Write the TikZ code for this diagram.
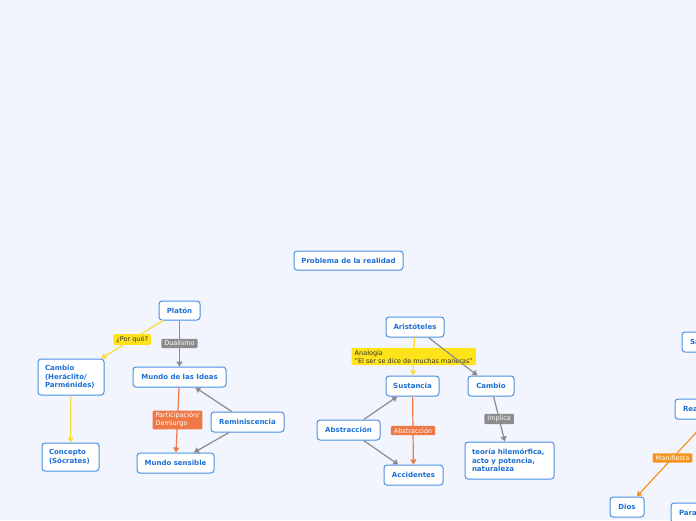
\documentclass[tikz,border=0pt]{standalone}
\usepackage{fontspec}
\setmainfont{DejaVu Sans}
\usetikzlibrary{arrows.meta}
\definecolor{bg}{HTML}{F2F5FE}
\definecolor{nodeblue}{HTML}{4A90E2}
\definecolor{txtblue}{HTML}{1C6ED4}
\definecolor{lgray}{HTML}{8C8C8C}
\definecolor{lyellow}{HTML}{FFE31A}
\definecolor{lineyellow}{HTML}{F9DC3A}
\definecolor{lorange}{HTML}{F07844}
\definecolor{lorangeb}{HTML}{F7941D}
\definecolor{darktxt}{HTML}{333333}
\tikzset{
  topic/.style={draw=nodeblue, fill=white, rounded corners=3pt, line width=1pt,
    text=txtblue, font=\bfseries\fontsize{7}{8.3}\selectfont, inner sep=0pt, align=center},
  lefttopic/.style={topic, align=left},
  lbl/.style={rounded corners=1pt, inner xsep=3pt, inner ysep=2pt,
    font=\fontsize{6.5}{8}\selectfont, align=left},
  lblgray/.style={lbl, fill=lgray, text=white},
  lblyellow/.style={lbl, fill=lyellow, text=darktxt},
  lblorange/.style={lbl, fill=lorange, text=white},
  lblorangeb/.style={lbl, fill=lorangeb, text=white},
  conn/.style={line width=1.2pt, -{Triangle[width=6pt,length=5pt]}},
  cgray/.style={conn, draw=lgray},
  cyellow/.style={conn, draw=lineyellow},
  corange/.style={conn, draw=lorange},
  corangeb/.style={conn, draw=lorangeb},
}
\begin{document}
\begin{tikzpicture}[x=1pt,y=-1pt]
\fill[bg] (0,0) rectangle (696,520);
\useasboundingbox (0,0) rectangle (696,520);
\clip (0,0) rectangle (696,520);

% nodes
\node[topic, minimum width=109pt, minimum height=19pt] (problema) at (348.5,260.5) {Problema de la realidad};
\node[topic, minimum width=41pt, minimum height=19pt] (platon) at (179.5,310.5) {Platón};
\node[lefttopic, minimum width=66pt, minimum height=36pt, text width=52pt] (cambioh) at (71,377) {Cambio\\(Heráclito/\\Parménides)};
\node[topic, minimum width=93pt, minimum height=20pt] (ideas) at (179.5,377) {Mundo de las Ideas};
\node[lefttopic, minimum width=57pt, minimum height=28pt, text width=43pt] (concepto) at (70.5,457) {Concepto\\(Sócrates)};
\node[topic, minimum width=73pt, minimum height=20pt] (remin) at (247.5,422) {Reminiscencia};
\node[topic, minimum width=77pt, minimum height=20pt] (sensible) at (175.5,463) {Mundo sensible};

\node[topic, minimum width=58pt, minimum height=20pt] (aristo) at (415,327) {Aristóteles};
\node[topic, minimum width=53pt, minimum height=20pt] (sustancia) at (412.5,386) {Sustancia};
\node[topic, minimum width=46pt, minimum height=20pt] (cambioa) at (491,386) {Cambio};
\node[topic, minimum width=63pt, minimum height=20pt] (abstr) at (348.5,430) {Abstracción};
\node[topic, minimum width=59pt, minimum height=20pt] (accid) at (413.5,475) {Accidentes};
\node[lefttopic, minimum width=89pt, minimum height=37pt, text width=75pt] (teoria) at (509.5,460.5) {teoría hilemórfica,\\acto y potencia,\\naturaleza};

\node[lefttopic, minimum width=80pt, minimum height=20pt, text width=64pt] (sa) at (722,342) {Sa};
\node[lefttopic, minimum width=86pt, minimum height=20pt, text width=70pt] (rea) at (718,409) {Rea};
\node[topic, minimum width=34pt, minimum height=20pt] (dios) at (627,507) {Dios};
\node[lefttopic, minimum width=80pt, minimum height=20pt, text width=64pt] (para) at (711,513) {Para};

% connectors
\draw[cyellow] (platon) -- node[lblyellow]{¿Por qué?} (cambioh);
\draw[cgray] (platon) -- node[lblgray]{Dualismo} (ideas);
\draw[cyellow] (cambioh) -- (concepto);
\draw[corange] (ideas) -- node[lblorange]{Participación/\\Demiurgo} (sensible);
\draw[cgray] (remin) -- (ideas);
\draw[cgray] (remin) -- (sensible);

\draw[cyellow] (aristo) -- node[lblyellow]{Analogía\\"El ser se dice de muchas maneras"} (sustancia);
\draw[cgray] (aristo) -- (cambioa);
\draw[cgray] (abstr) -- (sustancia);
\draw[cgray] (abstr) -- (accid);
\draw[corange] (sustancia) -- node[lblorange]{Abstracción} (accid);
\draw[cgray] (cambioa) -- node[lblgray]{Implica} (teoria);

\draw[corangeb] (rea) -- node[lblorangeb]{Manifiesta} (dios);
\end{tikzpicture}
\end{document}
